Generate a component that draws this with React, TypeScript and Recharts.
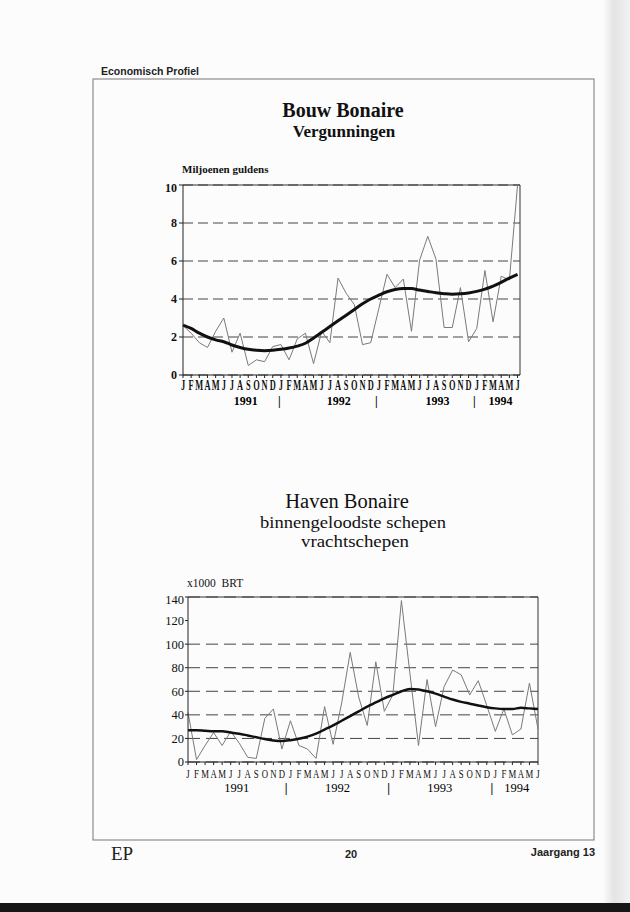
import React from 'react';
import { LineChart, Line, XAxis, YAxis, CartesianGrid, ReferenceLine } from 'recharts';

// Jan 1991 .. Jun 1994, one value per month
const MONTH_LETTERS = ['J', 'F', 'M', 'A', 'M', 'J', 'J', 'A', 'S', 'O', 'N', 'D'];
const MONTHS = Array.from({ length: 42 }, (_, i) => i);

const BOUW_MONTHLY = [
  2.6, 2.2, 1.7, 1.45, 2.3, 3.0, 1.2, 2.2, 0.5, 0.8, 0.7, 1.5,
  1.6, 0.8, 1.9, 2.2, 0.6, 2.3, 1.7, 5.1, 4.3, 3.7, 1.6, 1.7,
  3.5, 5.3, 4.6, 5.05, 2.3, 6.05, 7.3, 6.1, 2.5, 2.5, 4.6, 1.75,
  2.45, 5.5, 2.8, 5.2, 5.0, 10,
];
const BOUW_TREND = [
  2.63, 2.45, 2.2, 2.0, 1.85, 1.75, 1.58, 1.45, 1.35, 1.3, 1.28, 1.3,
  1.35, 1.42, 1.52, 1.67, 1.95, 2.25, 2.55, 2.85, 3.15, 3.45, 3.75, 4.0,
  4.2, 4.38, 4.5, 4.55, 4.55, 4.47, 4.4, 4.33, 4.28, 4.25, 4.27, 4.32,
  4.4, 4.52, 4.68, 4.88, 5.1, 5.3,
];
const HAVEN_MONTHLY = [
  42, 2, 14, 25, 14, 26, 16, 4, 3, 37, 45, 11,
  35, 14, 11, 3, 47, 15, 50, 93, 55, 31, 85, 43,
  57, 137, 75, 14, 70, 30, 64, 78, 74, 57, 69, 48,
  26, 45, 23, 28, 67, 28,
];
const HAVEN_TREND = [
  27, 27, 26.5, 26, 26, 25, 24, 22.5, 21, 19.5, 18.3, 17.8,
  18.5, 19.7, 21.5, 24, 27.5, 31, 35, 39, 43, 47, 50.5, 54,
  57, 60, 62, 61.5, 60, 58, 55.5, 53, 51, 49.5, 48, 46.5,
  45.5, 45, 45, 46, 45.5, 45,
];

const BOUW_Y_TICKS = [0, 2, 4, 6, 8, 10];
const HAVEN_Y_TICKS = [0, 20, 40, 60, 80, 100, 120, 140];

const YEAR_TEXT = ['1991', '|', '1992', '|', '1993', '|', '1994'];
const BOUW_YEAR_AT = [7.7, 11.8, 19.1, 23.7, 31.2, 35.7, 38.9];
const HAVEN_YEAR_AT = [5.7, 11.5, 17.5, 23.5, 29.5, 35.6, 38.5];

const bouwData = MONTHS.map((m) => ({ m, v: BOUW_MONTHLY[m], t: BOUW_TREND[m] }));
const havenData = MONTHS.map((m) => ({ m, v: HAVEN_MONTHLY[m], t: HAVEN_TREND[m] }));

const SERIF = '"Liberation Serif", "Times New Roman", serif';
const SANS = '"Liberation Sans", Arial, sans-serif';

// the scan sets the month initials very condensed, so squeeze them horizontally
const MonthTick = ({ x, y, payload, bold, dy }: any) => {
  const letter = MONTH_LETTERS[payload.value % 12];
  const sx = bold ? 0.6 : 0.7;
  return (
    <text
      transform={`translate(${x},${y + dy}) scale(${sx},1)`}
      textAnchor="middle"
      fontFamily={SERIF}
      fontWeight={bold ? 'bold' : 'normal'}
      fontSize={bold ? 14 : 12.5}
      fill="#111"
    >
      {letter}
    </text>
  );
};

const YearTick = ({ x, y, index, bold, dy }: any) => {
  const bar = YEAR_TEXT[index] === '|';
  return (
    <text
      x={x}
      y={y + dy}
      textAnchor="middle"
      fontFamily={SERIF}
      fontWeight={bold || bar ? 'bold' : 'normal'}
      fontSize={bold ? 12 : 12.5}
      fill="#000"
    >
      {YEAR_TEXT[index]}
    </text>
  );
};

const App: React.FC = () => {
  return (
    <div style={{ position: 'absolute', left: 0, top: 0, width: 630, height: 912, background: '#fcfcfc', overflow: 'hidden' }}>
      <svg width={630} height={912} style={{ position: 'absolute', left: 0, top: 0 }}>
        <defs>
          <linearGradient id="edge" x1="0" x2="1" y1="0" y2="0">
            <stop offset="0" stopColor="#fcfcfc" />
            <stop offset="0.4" stopColor="#e4e4e4" />
            <stop offset="1" stopColor="#f2f2f2" />
          </linearGradient>
        </defs>
        <rect x={603} y={0} width={27} height={912} fill="url(#edge)" />
        <rect x={0} y={903} width={630} height={9} fill="#161616" />
        <text x={101} y={75} fontFamily={SANS} fontWeight="bold" fontSize={10.5} fill="#222">Economisch Profiel</text>
        <rect x={93} y={79} width={501} height={761} fill="none" stroke="#777" strokeWidth={1} />

        <text x={343} y={117} textAnchor="middle" fontFamily={SERIF} fontWeight="bold" fontSize={20} fill="#111">Bouw Bonaire</text>
        <text x={344} y={136.5} textAnchor="middle" fontFamily={SERIF} fontWeight="bold" fontSize={17} fill="#111">Vergunningen</text>
        <text x={182} y={173} fontFamily={SERIF} fontWeight="bold" fontSize={11} fill="#111">Miljoenen guldens</text>

        <text x={347} y={508} textAnchor="middle" fontFamily={SERIF} fontSize={20.5} fill="#111">Haven Bonaire</text>
        <text x={353} y={528} textAnchor="middle" fontFamily={SERIF} fontSize={16.5} fill="#111" textLength={186} lengthAdjust="spacingAndGlyphs">binnengeloodste schepen</text>
        <text x={355} y={547} textAnchor="middle" fontFamily={SERIF} fontSize={16.5} fill="#111" textLength={108} lengthAdjust="spacingAndGlyphs">vrachtschepen</text>
        <text x={187} y={587} fontFamily={SERIF} fontSize={11.5} fill="#111" style={{ whiteSpace: 'pre' }}>x1000  BRT</text>

        <text x={111} y={860} fontFamily={SERIF} fontSize={19} fill="#222">EP</text>
        <text x={351} y={858} textAnchor="middle" fontFamily={SANS} fontWeight="bold" fontSize={11} fill="#222">20</text>
        <text x={595} y={856} textAnchor="end" fontFamily={SANS} fontWeight="bold" fontSize={11} fill="#222">Jaargang 13</text>
      </svg>

      {/* Bouw Bonaire */}
      <div style={{ position: 'absolute', left: 151, top: 180 }}>
        <LineChart width={373} height={231} data={bouwData} margin={{ top: 5, right: 4, left: 0, bottom: 2 }}>
          <CartesianGrid vertical={false} stroke="#444" strokeDasharray="10 5" />
          <XAxis
            dataKey="m"
            type="number"
            domain={[0, 41.3]}
            ticks={MONTHS}
            interval={0}
            height={18}
            stroke="#222"
            tickSize={3}
            tickMargin={0}
            tick={<MonthTick bold dy={12} />}
          />
          <XAxis
            xAxisId="yr"
            dataKey="m"
            type="number"
            domain={[0, 41.3]}
            ticks={BOUW_YEAR_AT}
            interval={0}
            height={16}
            axisLine={false}
            tickLine={false}
            tickSize={0}
            tickMargin={0}
            tick={<YearTick bold dy={12} />}
          />
          <YAxis
            domain={[0, 10]}
            ticks={BOUW_Y_TICKS}
            width={32}
            stroke="#222"
            tickSize={4}
            tickMargin={2}
            tick={{ fill: '#111', fontSize: 12, fontWeight: 'bold', fontFamily: SERIF }}
          />
          <ReferenceLine y={10} stroke="#333" />
          <ReferenceLine x={41.3} stroke="#333" />
          <Line dataKey="v" type="linear" stroke="#7a7a7a" strokeWidth={1} dot={false} isAnimationActive={false} />
          <Line dataKey="t" type="monotone" stroke="#111" strokeWidth={3} dot={false} isAnimationActive={false} />
        </LineChart>
      </div>

      {/* Haven Bonaire */}
      <div style={{ position: 'absolute', left: 154, top: 592 }}>
        <LineChart width={388} height={208} data={havenData} margin={{ top: 5, right: 4, left: 0, bottom: 2 }}>
          <CartesianGrid vertical={false} stroke="#444" strokeDasharray="12 6" />
          <XAxis
            dataKey="m"
            type="number"
            domain={[0, 41]}
            ticks={MONTHS}
            interval={0}
            height={18}
            stroke="#222"
            tickSize={3}
            tickMargin={0}
            tick={<MonthTick dy={13} />}
          />
          <XAxis
            xAxisId="yr"
            dataKey="m"
            type="number"
            domain={[0, 41]}
            ticks={HAVEN_YEAR_AT}
            interval={0}
            height={18}
            axisLine={false}
            tickLine={false}
            tickSize={0}
            tickMargin={0}
            tick={<YearTick dy={12} />}
          />
          <YAxis
            domain={[0, 140]}
            ticks={HAVEN_Y_TICKS}
            width={34}
            stroke="#222"
            tickSize={3}
            tickMargin={1}
            tick={{ fill: '#111', fontSize: 12.5, fontFamily: SERIF }}
          />
          <ReferenceLine y={140} stroke="#333" />
          <ReferenceLine x={41} stroke="#333" />
          <Line dataKey="v" type="linear" stroke="#7a7a7a" strokeWidth={1} dot={false} isAnimationActive={false} />
          <Line dataKey="t" type="monotone" stroke="#111" strokeWidth={2.5} dot={false} isAnimationActive={false} />
        </LineChart>
      </div>
    </div>
  );
};

export default App;
